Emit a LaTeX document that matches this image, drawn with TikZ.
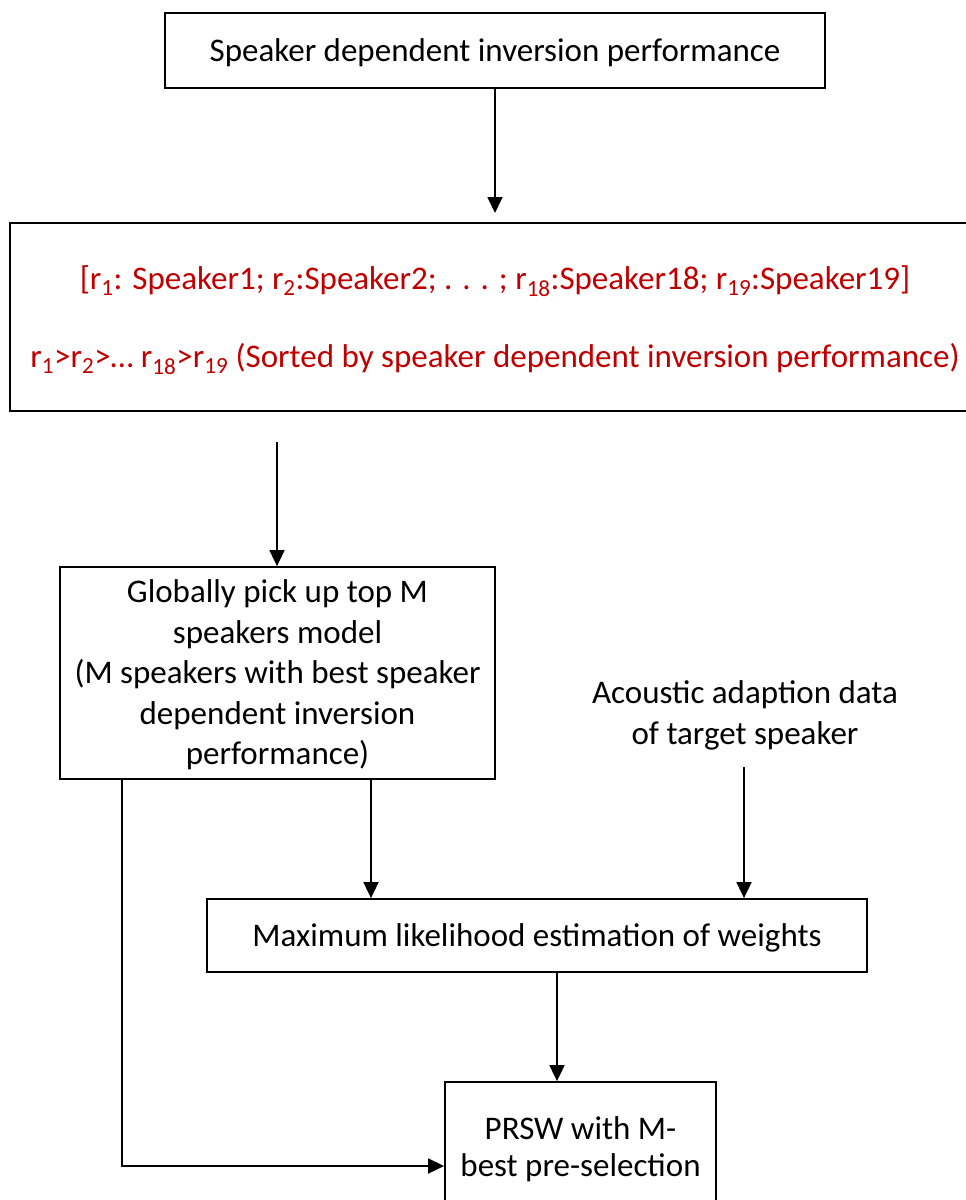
\documentclass[tikz,border=0pt]{standalone}
\usepackage{fontspec}
\setmainfont{Carlito}
\usetikzlibrary{arrows.meta}
\definecolor{rankred}{HTML}{C00000}
\begin{document}
\begin{tikzpicture}[x=1pt,y=-1pt,
  box/.style={draw, line width=1.8pt, rectangle, inner sep=0pt, align=center,
              text depth=1pt, font=\fontsize{33}{40.5}\selectfont},
  label/.style={inner sep=0pt, align=center, text depth=1pt,
                font=\fontsize{33}{41}\selectfont},
  arr/.style={line width=1.8pt, -{Triangle[length=16pt,width=15pt]}}]
\useasboundingbox (0,0) rectangle (966,1200);
\clip (0,0) rectangle (966,1200);

% boxes
\node[box, minimum width=660pt, minimum height=75pt] (spk) at (495,50.5)
  {Speaker dependent inversion performance};
\node[box, minimum width=970pt, minimum height=188pt, text=rankred,
      font=\fontsize{33}{78}\selectfont] (rank) at (495,317)
  {[r\textsubscript{1}: Speaker1; r\textsubscript{2}:Speaker2; . . . ; r\textsubscript{18}:Speaker18; r\textsubscript{19}:Speaker19]\\
   r\textsubscript{1}>r\textsubscript{2}>… r\textsubscript{18}>r\textsubscript{19} (Sorted by speaker dependent inversion performance)};
\node[box, minimum width=435pt, minimum height=212pt] (pick) at (277.5,673)
  {Globally pick up top M\\speakers model\\(M speakers with best speaker\\dependent inversion\\performance)};
\node[label] (adapt) at (745,713) {Acoustic adaption data\\of target speaker};
\node[box, minimum width=660pt, minimum height=73pt] (mle) at (537,935.5)
  {Maximum likelihood estimation of weights};
\node[box, minimum width=271pt, minimum height=130pt,
      font=\fontsize{33}{37}\selectfont] (prsw) at (580.5,1147)
  {PRSW with M-\\best pre-selection};

% connector coordinates
\coordinate (a1end) at (495,213);
\coordinate (a2start) at (277,442);
\coordinate (x3) at (371,0);
\coordinate (a4start) at (744,767);
\coordinate (x5) at (557,0);
\coordinate (x6) at (122,0);
\coordinate (y6) at (0,1166);

% connectors
\draw[arr] (spk.south) -- (a1end);
\draw[arr] (a2start) -- (pick.north -| a2start);
\draw[arr] (pick.south -| x3) -- (mle.north -| x3);
\draw[arr] (a4start) -- (mle.north -| a4start);
\draw[arr] (mle.south -| x5) -- (prsw.north -| x5);
\draw[arr] (pick.south -| x6) |- (prsw.west |- y6);
\end{tikzpicture}
\end{document}
